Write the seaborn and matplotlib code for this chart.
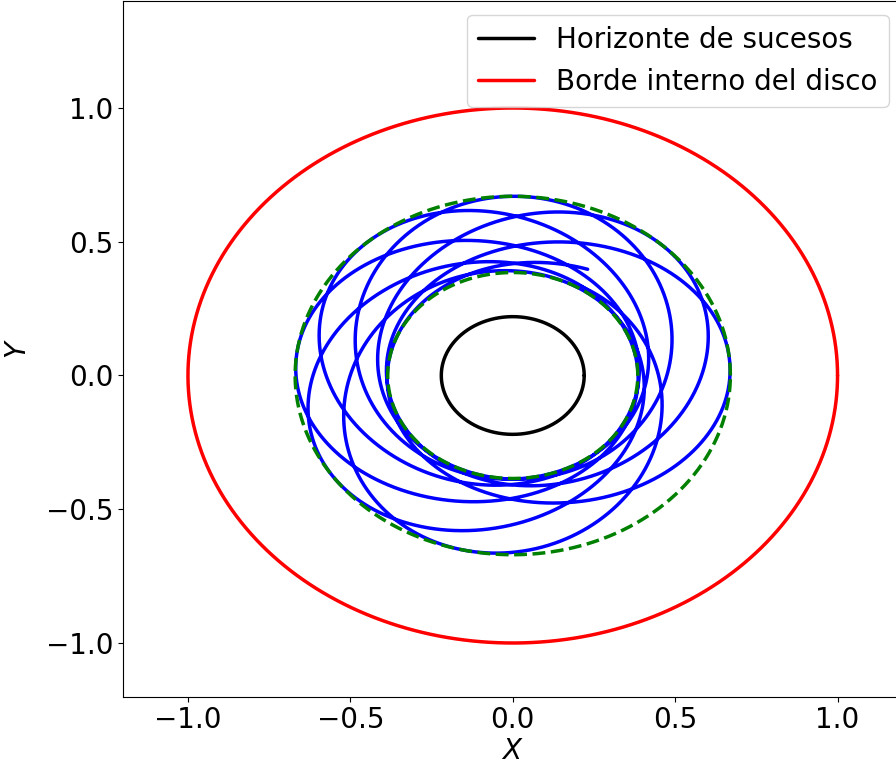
import numpy as np
import pandas as pd
import matplotlib
matplotlib.use("Agg")
import matplotlib.pyplot as plt
import seaborn as sns

# Radii of the reference circles
horizon_radius = 0.22          # event horizon
disk_inner_radius = 1.0        # inner edge of the accretion disk
turning_radii = [0.385, 0.67]  # periapsis / apoapsis of the bound orbit

# Orbit: (du/dphi)^2 = C (u - u_apo)(u_peri - u)(u_3 - u), with u = 1/r
third_root_radius = 0.3256     # r_3 = 1/u_3 (sets how long it lingers at periapsis)
radial_period_deg = 402.0      # azimuth swept between two apoapsis passages
orbit_start = [0.231, 0.397]   # (x, y) where the trajectory begins, moving inward
azimuth_span_deg = 2880.0      # total azimuth covered (8 turns)

x_ticks = [-1.0, -0.5, 0.0, 0.5, 1.0]
y_ticks = [-1.0, -0.5, 0.0, 0.5, 1.0]


def circle_frame(radius, n=720):
    t = np.linspace(0.0, 2.0 * np.pi, n)
    return pd.DataFrame({"x": radius * np.cos(t), "y": radius * np.sin(t)})


def ellipk(m):
    a, b = 1.0, np.sqrt(1.0 - m)
    for _ in range(30):
        a, b = 0.5 * (a + b), np.sqrt(a * b)
    return np.pi / (2.0 * a)


def ellipf(theta, m, n=4001):
    t = np.linspace(0.0, theta, n)
    return np.trapezoid(1.0 / np.sqrt(1.0 - m * np.sin(t) ** 2), t)


def orbit_frame(n_steps=24000):
    r_peri, r_apo = turning_radii
    u1, u2, u3 = 1.0 / r_apo, 1.0 / r_peri, 1.0 / third_root_radius
    m = (u2 - u1) / (u3 - u1)
    w = 2.0 * ellipk(m) / np.deg2rad(radial_period_deg)
    coupling = 4.0 * w ** 2 / (u3 - u1)

    x0, y0 = orbit_start
    phi_s = np.arctan2(y0, x0)
    u_s = 1.0 / np.hypot(x0, y0)
    frac = np.clip((u_s - u1) / (u2 - u1), 0.0, 1.0)
    phi_apo = phi_s - ellipf(np.arcsin(np.sqrt(frac)), m) / w

    def accel(u):
        dg = ((u2 - u) * (u3 - u) - (u - u1) * (u3 - u)
              - (u - u1) * (u2 - u))
        return 0.5 * coupling * dg

    phi = np.linspace(phi_apo, phi_s + np.deg2rad(azimuth_span_deg),
                      n_steps + 1)
    h = phi[1] - phi[0]
    u = np.empty_like(phi)
    u[0], v = u1, 0.0
    for i in range(n_steps):
        k1u, k1v = v, accel(u[i])
        k2u, k2v = v + 0.5 * h * k1v, accel(u[i] + 0.5 * h * k1u)
        k3u, k3v = v + 0.5 * h * k2v, accel(u[i] + 0.5 * h * k2u)
        k4u, k4v = v + h * k3v, accel(u[i] + h * k3u)
        u[i + 1] = u[i] + h / 6.0 * (k1u + 2 * k2u + 2 * k3u + k4u)
        v = v + h / 6.0 * (k1v + 2 * k2v + 2 * k3v + k4v)
    keep = phi >= phi_s
    r, phi = 1.0 / u[keep], phi[keep]
    return pd.DataFrame({"x": r * np.cos(phi), "y": r * np.sin(phi)})


sns.set_style("white")
plt.rcParams["font.family"] = ["DejaVu Sans"]
plt.rcParams["mathtext.fontset"] = "dejavusans"
plt.rcParams["text.color"] = "black"
plt.rcParams["axes.labelcolor"] = "black"
plt.rcParams["xtick.color"] = "black"
plt.rcParams["ytick.color"] = "black"

fig = plt.figure(figsize=(8.96, 7.7), dpi=100)
ax = fig.add_axes([123 / 896, 73.5 / 770, 779.5 / 896, 695.5 / 770])

orbit = orbit_frame()
sns.lineplot(data=orbit, x="x", y="y", sort=False, estimator=None,
             color="blue", lw=2.5, ax=ax)

for rad in turning_radii:
    sns.lineplot(data=circle_frame(rad), x="x", y="y", sort=False,
                 estimator=None, color="green", lw=2.5, ax=ax,
                 linestyle=(0, (3.7, 1.6)))

sns.lineplot(data=circle_frame(horizon_radius), x="x", y="y", sort=False,
             estimator=None, color="black", lw=2.5, ax=ax,
             label="Horizonte de sucesos")
sns.lineplot(data=circle_frame(disk_inner_radius), x="x", y="y", sort=False,
             estimator=None, color="red", lw=2.5, ax=ax,
             label="Borde interno del disco")

ax.set_xlim(-1.2, 1.2)
ax.set_ylim(-1.2, 1.4)
ax.set_xticks(x_ticks)
ax.set_yticks(y_ticks)
ax.tick_params(axis="both", labelsize=20, direction="out", length=3.5,
               width=0.8, color="black", labelcolor="black",
               left=True, bottom=True)
ax.set_xlabel("$X$", fontsize=20, labelpad=2)
ax.set_ylabel("$Y$", fontsize=20, labelpad=10)
for side in ax.spines.values():
    side.set_color("black")
    side.set_linewidth(0.8)

leg = ax.legend(loc="upper right", fontsize=20, frameon=True)
for txt in leg.get_texts():
    txt.set_color("black")

fig.savefig("out.png", dpi=100)
